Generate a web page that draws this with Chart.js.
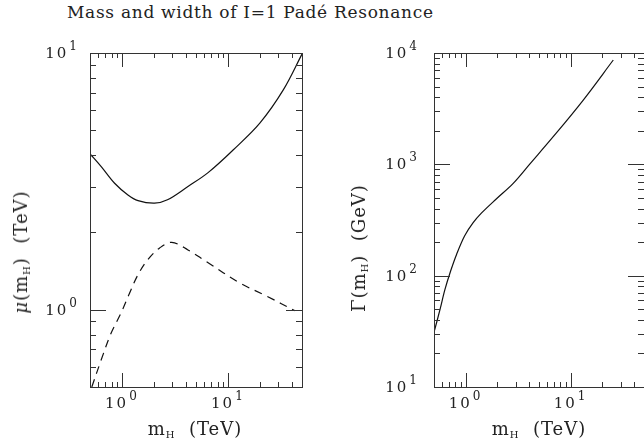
<!DOCTYPE html>
<html>
<head>
<meta charset="utf-8">
<script src="https://cdn.jsdelivr.net/npm/chart.js@4/dist/chart.umd.min.js"></script>
<style>
  html, body { margin: 0; padding: 0; background: #fff; }
  body { width: 644px; height: 446px; overflow: hidden; position: relative; font-family: "DejaVu Serif", serif; color: #222; }
  .box { position: absolute; top: 0; }
  .txt { position: absolute; white-space: nowrap; line-height: 1; }
  .txt sub { font-size: 10px; vertical-align: -3px; }
  .rot { transform: translate(-50%, -50%) rotate(-90deg); }
  .mid { transform: translate(-50%, -50%); }
</style>
</head>
<body>

<div class="txt" id="titulo" style="left:67px; top:4px; font-size:17px; letter-spacing:0.7px;">Mass and width of I=1 Padé Resonance</div>

<div class="box" style="left:0px;"><canvas id="graficoMassa" width="320" height="446"></canvas></div>
<div class="box" style="left:320px;"><canvas id="graficoLargura" width="340" height="446"></canvas></div>

<div class="txt rot" style="left:22px; top:252px; font-size:18px; letter-spacing:1px;"><i>μ</i>(m<sub>H</sub>)&nbsp; (TeV)</div>
<div class="txt rot" style="left:360px; top:248px; font-size:18px; letter-spacing:1px;">Γ(m<sub>H</sub>)&nbsp; (GeV)</div>
<div class="txt mid" style="left:195px; top:430px; font-size:18px; letter-spacing:1px;">m<sub>H</sub>&nbsp; (TeV)</div>
<div class="txt mid" style="left:539px; top:430px; font-size:18px; letter-spacing:1px;">m<sub>H</sub>&nbsp; (TeV)</div>

<script>
// ---------- data ----------
const massaX = [0.5, 0.638, 0.853, 1.14, 1.42, 2.03, 2.69, 4.2, 6.5, 11.2, 20, 33.3, 50];
const massaSolida = [4.05, 3.61, 3.11, 2.80, 2.66, 2.60, 2.68, 3.02, 3.42, 4.19, 5.33, 7.18, 9.9];

const tracejadaX = [0.52, 0.638, 0.79, 0.98, 1.18, 1.42, 1.76, 2.27, 2.95, 4.2, 6.24, 13.0, 23.2, 43];
const massaTracejada = [0.50, 0.638, 0.81, 0.97, 1.16, 1.37, 1.57, 1.74, 1.83, 1.71, 1.54, 1.27, 1.13, 0.99];

const larguraX = [0.5, 0.57, 0.635, 0.72, 0.82, 0.98, 1.18, 1.42, 1.97, 2.84, 4.10, 6.83, 13.2, 25.5];
const largura = [31, 49.5, 74.8, 110, 155, 228, 299, 366, 491, 675, 1010, 1770, 3780, 8650];

// tick values (labels only on the powers of ten)
const ticksX = [0.5, 0.6, 0.7, 0.8, 0.9, 1, 2, 3, 4, 5, 6, 7, 8, 9, 10, 20, 30, 40, 50];
const ticksMassa = [0.5, 0.6, 0.7, 0.8, 0.9, 1, 2, 3, 4, 5, 6, 7, 8, 9, 10];
const ticksLargura = [10, 20, 30, 40, 50, 60, 70, 80, 90, 100, 200, 300, 400, 500, 600, 700, 800, 900,
                      1000, 2000, 3000, 4000, 5000, 6000, 7000, 8000, 9000, 10000];

// ---------- helpers ----------
function pontos(xs, ys) {
  return xs.map((x, i) => ({ x: x, y: ys[i] }));
}

function potenciaDeDez(v) {
  const l = Math.log10(v);
  return Math.abs(l - Math.round(l)) < 1e-9;
}

// "10" with a raised exponent
function desenhaPotencia(ctx, v, x, y, alinhamento) {
  const expoente = String(Math.round(Math.log10(v)));
  ctx.font = "15px 'DejaVu Serif'";
  ctx.letterSpacing = "2px";
  const w1 = ctx.measureText("10").width;
  ctx.font = "12px 'DejaVu Serif'";
  ctx.letterSpacing = "0px";
  const w2 = ctx.measureText(expoente).width;
  const total = w1 + 1 + w2;
  let x0 = alinhamento === "right" ? x - total : x - total / 2;
  ctx.textBaseline = "middle";
  ctx.textAlign = "left";
  ctx.font = "15px 'DejaVu Serif'";
  ctx.letterSpacing = "2px";
  ctx.fillText("10", x0, y);
  ctx.font = "12px 'DejaVu Serif'";
  ctx.letterSpacing = "0px";
  ctx.fillText(expoente, x0 + w1 + 1, y - 7);
}

// frame, inward ticks on all four sides and the tick labels
const molduraPlugin = {
  id: "moldura",
  afterDraw(chart, args, opts) {
    const ctx = chart.ctx;
    const a = chart.chartArea;
    const sx = chart.scales.x;
    const sy = chart.scales.y;
    ctx.save();
    ctx.strokeStyle = "#333";
    ctx.fillStyle = "#222";
    ctx.lineWidth = 1;
    ctx.strokeRect(Math.round(a.left) + 0.5, Math.round(a.top) + 0.5, Math.round(a.right - a.left), Math.round(a.bottom - a.top));
    ctx.beginPath();
    sx.ticks.forEach(t => {
      const p = Math.round(sx.getPixelForValue(t.value)) + 0.5;
      if (p <= a.left + 1 || p >= a.right - 1) return;
      const len = potenciaDeDez(t.value) ? 14 : 5;
      ctx.moveTo(p, a.bottom); ctx.lineTo(p, a.bottom - len);
      ctx.moveTo(p, a.top); ctx.lineTo(p, a.top + len);
    });
    sy.ticks.forEach(t => {
      const p = Math.round(sy.getPixelForValue(t.value)) + 0.5;
      if (p <= a.top + 1 || p >= a.bottom - 1) return;
      const len = potenciaDeDez(t.value) ? 16 : 6;
      ctx.moveTo(a.left, p); ctx.lineTo(a.left + len, p);
      ctx.moveTo(a.right, p); ctx.lineTo(a.right - len, p);
    });
    ctx.stroke();

    sx.ticks.forEach(t => {
      if (potenciaDeDez(t.value)) desenhaPotencia(ctx, t.value, sx.getPixelForValue(t.value) - 1, a.bottom + 17, "center");
    });
    sy.ticks.forEach(t => {
      if (potenciaDeDez(t.value)) desenhaPotencia(ctx, t.value, a.left - opts.folgaY, sy.getPixelForValue(t.value) + 1, "right");
    });
    ctx.restore();
  }
};

function opcoes(faixaY, valoresY, larguraEixoY, margemDireita, folgaY) {
  return {
    responsive: false,
    animation: false,
    layout: { padding: { top: 53, right: margemDireita, left: 0, bottom: 0 } },
    plugins: { legend: { display: false }, tooltip: { enabled: false }, moldura: { folgaY: folgaY } },
    scales: {
      x: {
        type: "logarithmic",
        min: ticksX[0],
        max: ticksX[ticksX.length - 1],
        grid: { display: false },
        border: { display: false },
        ticks: { display: false },
        afterBuildTicks: s => { s.ticks = ticksX.map(v => ({ value: v })); },
        afterFit: s => { s.height = 59; }
      },
      y: {
        type: "logarithmic",
        min: faixaY[0],
        max: faixaY[faixaY.length - 1],
        grid: { display: false },
        border: { display: false },
        ticks: { display: false },
        afterBuildTicks: s => { s.ticks = valoresY.map(v => ({ value: v })); },
        afterFit: s => { s.width = larguraEixoY; }
      }
    }
  };
}

const estiloLinha = { showLine: true, pointRadius: 0, borderColor: "#111", borderWidth: 1.2, tension: 0.35 };

/* -------------- GRÁFICO MASSA ---------------- */
new Chart(document.getElementById("graficoMassa"), {
  type: "scatter",
  data: {
    datasets: [
      Object.assign({ data: pontos(massaX, massaSolida) }, estiloLinha),
      Object.assign({ data: pontos(tracejadaX, massaTracejada), borderDash: [8, 6] }, estiloLinha)
    ]
  },
  options: opcoes(ticksMassa, ticksMassa, 90, 18, 13),
  plugins: [molduraPlugin]
});

/* -------------- GRÁFICO LARGURA -------------- */
new Chart(document.getElementById("graficoLargura"), {
  type: "scatter",
  data: {
    datasets: [
      Object.assign({ data: pontos(larguraX, largura) }, estiloLinha)
    ]
  },
  options: opcoes(ticksLargura, ticksLargura, 114, 16, 17),
  plugins: [molduraPlugin]
});
</script>
</body>
</html>
